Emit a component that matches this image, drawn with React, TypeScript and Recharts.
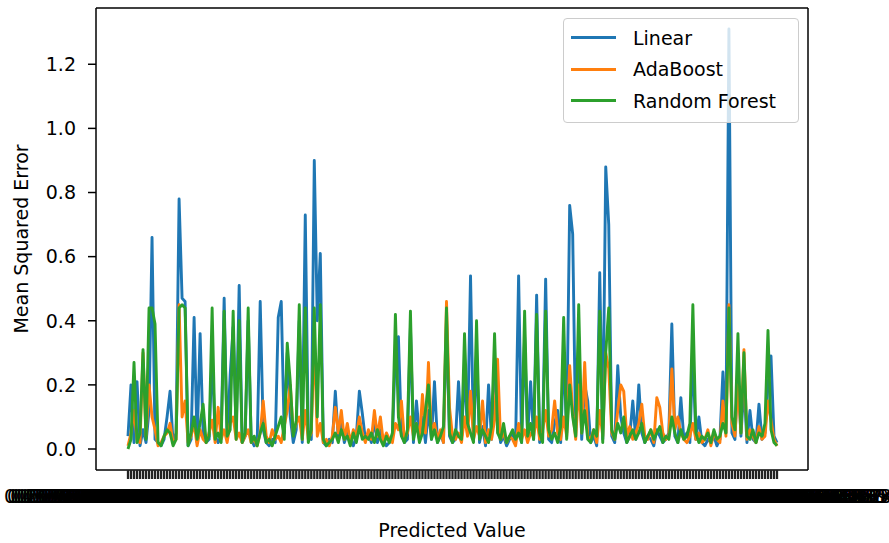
import React from "react";
import { LineChart, Line, XAxis, YAxis, CartesianGrid, Legend, Label } from "recharts";

// x categories: predicted values (tick labels overlap into a solid band in the original)
const predicted = [
  "0.4378259143872615432", "0.2916473805126394871", "0.5830194762538140926", "0.1748392056174832965", "0.3692047185039271648", "0.6120493857261048375", "0.0973518264093715284",
  "0.8254170396215843709", "0.3361852947102583614", "0.7105938264817340295", "0.4592817306458129073", "0.2038475619283746501", "0.5517390428163927458", "0.9146285037194625830",
  "0.1285730946218403765", "0.6749201583726419038", "0.3927461058391047256", "0.8012364957840216397", "0.2475918306427159384", "0.5063782914056381729", "0.7391840265139572086",
  "0.0658293147526084913", "0.4821057396241837560", "0.6293748150362941087", "0.3150846279183620954", "0.8876120453927481036", "0.1904637582016374925", "0.5728304196513829407",
  "0.4036917285409136582", "0.7650283914625307148", "0.2519640837152849367", "0.9321587064238917450", "0.3589201746930258164", "0.6837405129481603795", "0.1160359428716294053",
  "0.5294871630258146309", "0.8143906275341089652", "0.2701538469027136584", "0.6452917308164235970", "0.0391826547380916243", "0.4718360295418627039", "0.7936150824693052718",
  "0.3047281956302817465", "0.5902746183059271834", "0.1627394085164930527", "0.8590417362805143926", "0.4265038179236485710", "0.6983152740519826347", "0.2294806351740658192",
  "0.7512039486271354806", "0.0826471539082473615", "0.5146093827561039284", "0.3801572694318562047", "0.9053816427095281364", "0.2140968573126493087", "0.6630294158726037451",
  "0.4489150372860421759", "0.1392685047913826540", "0.7764029381502697163", "0.3218470569341875026", "0.5987312640857132908", "0.8402657193068241573", "0.2653094718236059481",
  "0.0517834296103582947", "0.6178420953618274035", "0.3736095128470361952", "0.9217648305912473068", "0.4940273816529038176", "0.1853607249381754602", "0.7069385142657203918",
  "0.3482605179042637815", "0.8721049365287150436", "0.2085913467301829754", "0.5639870214358016927", "0.1019473582640923185", "0.6871530492718364059", "0.4153762809162547390",
  "0.7825041936752810463", "0.2562839017495361208", "0.5408176293035184726", "0.9684310527106428395", "0.3012548769123705648", "0.6326081547930862174", "0.1571896432085916307",
  "0.4805319267541702938", "0.8039672451380527146", "0.2398054716293841065", "0.7283610945817260493", "0.0734185926304157382", "0.5515062839470283615", "0.3877249051632974801",
  "0.6591438207514839627", "0.1246709358162053894", "0.9005823174638291540", "0.4327160985240513768", "0.2819574036182607459", "0.7640193852071346285", "0.5172836049318457960",
  "0.0928471536204715893", "0.6036287419571028364", "0.3564019827365094172", "0.8478306152849163720", "0.1982653074106382915", "0.7157940263584710326", "0.4620581397023856149",
  "0.2731096548317250496", "0.9412837065129340875", "0.5869204317860523194", "0.1304758926473018265", "0.6715390842051769304", "0.3289614075832146958", "0.8136572049163825407",
  "0.4092758136509274163", "0.0615382497126048730", "0.7473019258643105827", "0.2960845173258619043", "0.5281467093712540386", "0.8847201536940872159", "0.1708935264081356724",
  "0.6409172835624098517", "0.3851260749385712406", "0.9760384125079341628", "0.2247618590342876035", "0.5734091628107352849", "0.1139607452836491270", "0.7018453962513804736",
  "0.4571806329147625083", "0.8306259174620183945", "0.2026743851936047215", "0.6187520943705318462", "0.0402865719836254197", "0.5492738016548170324", "0.3635104982716593048",
  "0.7934682150381946720", "0.2617035849267103584", "0.6845219306715438092", "0.1476830259483715026", "0.4928561073625049837", "0.8569014736205831469", "0.3154270869124763508",
  "0.5803942617053826194", "0.0869317524186402759", "0.7208650493851726347", "0.4251867039124683502", "0.2693518047365120948", "0.9128047356102498613", "0.6394025718936574201",
  "0.1862407395268143057", "0.5047318629045871239", "0.8615792430186357142", "0.3470926158732904615", "0.6912583047164205387", "0.0253798164372059418", "0.4436915207683142596",
  "0.7742108365294018573", "0.2189574036718245609", "0.5569283047312687514", "0.9306751824095136287", "0.3728410596427183560", "0.6281059734618520943", "0.1097632584205963718",
  "0.4697351028476309152", "0.8054916273105842637", "0.2874130659271548306", "0.6650384917253061824", "0.0572946381627409315", "0.5336127908514267390", "0.9471805263927310846",
  "0.3126495780364127058", "0.7589302146813075429", "0.1953706429158362047", "0.6047281593205714683", "0.4382951067342809516", "0.8738610254791623840", "0.2315849072613958471",
  "0.5629073148206351794", "0.0985134627094583216", "0.7391865024317920658", "0.3517602948153746029", "0.8293405761592184370", "0.1680952437605812943", "0.6024718359284617035",
  "0.4213869507126039482", "0.9652031847259143706", "0.2740318596427605813", "0.7106845293061487295", "0.0348279165037241856", "0.5871630294176583920", "0.3395017842659320174",
  "0.8167294053819472605", "0.1529836470235018947", "0.6483017259641830526", "0.4051762938206594173", "0.2872651403918267054", "0.9217340568023614795", "0.5408926173584203167",
  "0.0761593284015726438", "0.6915830472169348520", "0.3284067195503817462", "0.7823159460287513094", "0.4607813925316048275", "0.2146705839462170358", "0.8539246017385029614",
  "0.3912587406123596841", "0.6270491853096712534", "0.1418735062974185203", "0.5983620497321408657", "0.9046817352061934728", "0.2527049168345207391", "0.7174083592613840526",
  "0.4859130726485017362", "0.0690248153762394850", "0.6732518094271603895", "0.3605829174093156428", "0.8391062547618230974", "0.1215876493025718360", "0.5547309182630451897",
];

const linear = [
  0.04, 0.20, 0.02, 0.21, 0.01, 0.06, 0.02, 0.12, 0.66, 0.03,
  0.02, 0.01, 0.03, 0.10, 0.18, 0.02, 0.05, 0.78, 0.47, 0.46,
  0.01, 0.03, 0.41, 0.02, 0.36, 0.05, 0.02, 0.03, 0.30, 0.04,
  0.02, 0.04, 0.47, 0.03, 0.23, 0.38, 0.05, 0.51, 0.02, 0.04,
  0.40, 0.03, 0.01, 0.02, 0.46, 0.06, 0.02, 0.01, 0.03, 0.02,
  0.41, 0.46, 0.05, 0.30, 0.10, 0.02, 0.06, 0.40, 0.02, 0.73,
  0.05, 0.03, 0.90, 0.40, 0.61, 0.02, 0.01, 0.03, 0.02, 0.18,
  0.03, 0.08, 0.02, 0.05, 0.03, 0.01, 0.04, 0.18, 0.11, 0.03,
  0.05, 0.02, 0.09, 0.02, 0.06, 0.03, 0.01, 0.02, 0.04, 0.30,
  0.35, 0.05, 0.02, 0.03, 0.38, 0.02, 0.15, 0.04, 0.10, 0.02,
  0.12, 0.03, 0.21, 0.02, 0.05, 0.02, 0.40, 0.04, 0.02, 0.03,
  0.21, 0.03, 0.25, 0.05, 0.54, 0.03, 0.30, 0.02, 0.07, 0.01,
  0.20, 0.03, 0.28, 0.10, 0.02, 0.04, 0.01, 0.03, 0.05, 0.02,
  0.54, 0.02, 0.35, 0.04, 0.21, 0.03, 0.48, 0.02, 0.05, 0.53,
  0.03, 0.02, 0.08, 0.12, 0.02, 0.30, 0.05, 0.76, 0.67, 0.04,
  0.35, 0.03, 0.20, 0.15, 0.02, 0.04, 0.01, 0.55, 0.03, 0.88,
  0.70, 0.04, 0.02, 0.26, 0.10, 0.05, 0.02, 0.04, 0.15, 0.03,
  0.20, 0.05, 0.02, 0.04, 0.03, 0.01, 0.06, 0.04, 0.02, 0.03,
  0.05, 0.39, 0.04, 0.02, 0.16, 0.03, 0.05, 0.02, 0.30, 0.03,
  0.10, 0.02, 0.01, 0.03, 0.02, 0.04, 0.01, 0.03, 0.24, 0.05,
  1.31, 0.05, 0.03, 0.25, 0.04, 0.20, 0.02, 0.12, 0.03, 0.02,
  0.14, 0.03, 0.05, 0.20, 0.29, 0.04, 0.02,
];

const adaBoost = [
  0.01, 0.05, 0.12, 0.03, 0.02, 0.30, 0.04, 0.20, 0.10, 0.06,
  0.01, 0.02, 0.04, 0.05, 0.08, 0.02, 0.03, 0.45, 0.10, 0.15,
  0.02, 0.04, 0.08, 0.01, 0.06, 0.03, 0.02, 0.05, 0.09, 0.02,
  0.13, 0.03, 0.06, 0.02, 0.08, 0.10, 0.03, 0.05, 0.02, 0.04,
  0.06, 0.02, 0.03, 0.01, 0.05, 0.15, 0.04, 0.02, 0.06, 0.03,
  0.04, 0.02, 0.07, 0.12, 0.20, 0.05, 0.08, 0.10, 0.03, 0.12,
  0.03, 0.05, 0.35, 0.04, 0.08, 0.02, 0.03, 0.01, 0.04, 0.13,
  0.05, 0.12, 0.03, 0.08, 0.02, 0.06, 0.04, 0.10, 0.05, 0.02,
  0.06, 0.03, 0.12, 0.04, 0.10, 0.02, 0.05, 0.03, 0.02, 0.08,
  0.06, 0.15, 0.03, 0.05, 0.10, 0.04, 0.08, 0.03, 0.17, 0.05,
  0.27, 0.04, 0.08, 0.03, 0.06, 0.02, 0.46, 0.13, 0.04, 0.03,
  0.05, 0.02, 0.10, 0.04, 0.18, 0.03, 0.07, 0.04, 0.15, 0.02,
  0.06, 0.03, 0.09, 0.28, 0.03, 0.05, 0.02, 0.04, 0.03, 0.01,
  0.08, 0.03, 0.06, 0.02, 0.05, 0.04, 0.10, 0.03, 0.06, 0.12,
  0.04, 0.06, 0.15, 0.05, 0.03, 0.10, 0.04, 0.26, 0.12, 0.03,
  0.20, 0.05, 0.27, 0.04, 0.03, 0.06, 0.02, 0.12, 0.04, 0.30,
  0.25, 0.05, 0.03, 0.12, 0.20, 0.18, 0.04, 0.07, 0.03, 0.05,
  0.08, 0.14, 0.04, 0.03, 0.06, 0.02, 0.16, 0.13, 0.05, 0.03,
  0.04, 0.25, 0.06, 0.10, 0.05, 0.03, 0.02, 0.04, 0.08, 0.03,
  0.05, 0.02, 0.03, 0.06, 0.01, 0.05, 0.03, 0.02, 0.15, 0.04,
  0.45, 0.08, 0.04, 0.20, 0.05, 0.31, 0.03, 0.06, 0.04, 0.02,
  0.07, 0.03, 0.04, 0.15, 0.09, 0.03, 0.01,
];

const randomForest = [
  0.00, 0.03, 0.27, 0.02, 0.05, 0.31, 0.03, 0.44, 0.44, 0.39,
  0.02, 0.01, 0.04, 0.06, 0.05, 0.01, 0.03, 0.44, 0.45, 0.44,
  0.01, 0.05, 0.10, 0.03, 0.08, 0.14, 0.02, 0.04, 0.44, 0.03,
  0.05, 0.02, 0.43, 0.04, 0.06, 0.43, 0.03, 0.40, 0.02, 0.05,
  0.44, 0.02, 0.04, 0.01, 0.05, 0.08, 0.02, 0.03, 0.01, 0.04,
  0.07, 0.10, 0.03, 0.33, 0.21, 0.04, 0.09, 0.45, 0.03, 0.44,
  0.02, 0.06, 0.44, 0.10, 0.45, 0.03, 0.01, 0.02, 0.03, 0.05,
  0.02, 0.06, 0.03, 0.04, 0.01, 0.05, 0.02, 0.07, 0.03, 0.04,
  0.03, 0.05, 0.02, 0.06, 0.03, 0.01, 0.04, 0.02, 0.05, 0.42,
  0.10, 0.04, 0.02, 0.06, 0.43, 0.03, 0.08, 0.02, 0.05, 0.12,
  0.20, 0.03, 0.06, 0.02, 0.04, 0.07, 0.44, 0.05, 0.02, 0.06,
  0.04, 0.03, 0.36, 0.08, 0.05, 0.02, 0.40, 0.03, 0.06, 0.04,
  0.02, 0.07, 0.36, 0.05, 0.03, 0.08, 0.02, 0.04, 0.06, 0.03,
  0.05, 0.02, 0.43, 0.04, 0.08, 0.03, 0.42, 0.05, 0.02, 0.43,
  0.06, 0.03, 0.05, 0.02, 0.07, 0.41, 0.03, 0.20, 0.10, 0.04,
  0.45, 0.05, 0.12, 0.03, 0.02, 0.06, 0.04, 0.43, 0.02, 0.30,
  0.44, 0.06, 0.03, 0.08, 0.05, 0.10, 0.02, 0.04, 0.06, 0.03,
  0.05, 0.08, 0.02, 0.04, 0.06, 0.03, 0.05, 0.07, 0.02, 0.04,
  0.03, 0.10, 0.05, 0.02, 0.06, 0.03, 0.04, 0.08, 0.45, 0.05,
  0.02, 0.04, 0.03, 0.05, 0.02, 0.06, 0.03, 0.04, 0.08, 0.05,
  0.44, 0.10, 0.06, 0.36, 0.05, 0.30, 0.04, 0.03, 0.06, 0.02,
  0.05, 0.04, 0.08, 0.37, 0.06, 0.02, 0.01,
];

const yTicks = [0, 0.2, 0.4, 0.6, 0.8, 1.0, 1.2];

const series = [
  { key: "linear", name: "Linear", color: "#1f77b4" },
  { key: "adaBoost", name: "AdaBoost", color: "#ff7f0e" },
  { key: "randomForest", name: "Random Forest", color: "#2ca02c" },
];

const data = predicted.map((p, i) => ({
  predicted: p,
  linear: linear[i],
  adaBoost: adaBoost[i],
  randomForest: randomForest[i],
}));

const FONT = "'DejaVu Sans', sans-serif";

function LegendBox() {
  return (
    <div
      style={{
        border: "1px solid #cccccc",
        borderRadius: 4,
        background: "rgba(255,255,255,0.8)",
        padding: "3px 10px 5px 7px",
        fontFamily: FONT,
        fontSize: 19,
        color: "#000",
        boxSizing: "border-box",
      }}
    >
      {series.map((s) => (
        <div key={s.key} style={{ display: "flex", alignItems: "center", height: 31.5 }}>
          <span style={{ display: "inline-block", width: 45, height: 3, background: s.color, marginRight: 17 }} />
          <span style={{ whiteSpace: "nowrap" }}>{s.name}</span>
        </div>
      ))}
    </div>
  );
}

export default function App() {
  return (
    <div style={{ position: "absolute", left: 0, top: 0, width: 889, height: 543, background: "#fff", fontFamily: FONT }}>
      <LineChart width={889} height={543} data={data} margin={{ top: 8, right: 81, bottom: 0, left: 0 }}>
        {/* axes frame, as matplotlib spines */}
        <CartesianGrid
          stroke="#000"
          strokeWidth={1.5}
          horizontalCoordinatesGenerator={({ offset }: any) => [offset.top, offset.top + offset.height]}
          verticalCoordinatesGenerator={({ offset }: any) => [offset.left, offset.left + offset.width]}
        />
        <XAxis
          dataKey="predicted"
          interval={0}
          height={73}
          padding={{ left: 32, right: 31 }}
          axisLine={false}
          tickLine={{ stroke: "#222", strokeWidth: 2.3 }}
          tickSize={9}
          tickMargin={11}
          tick={{ fontSize: 19, fill: "#000", fontFamily: FONT }}
        >
          <Label
            content={({ viewBox }: any) => (
              <text
                x={viewBox.x + viewBox.width / 2}
                y={viewBox.y + 67}
                textAnchor="middle"
                fontSize={19}
                fontFamily={FONT}
                fill="#000"
              >
                Predicted Value
              </text>
            )}
          />
        </XAxis>
        <YAxis
          type="number"
          width={96}
          domain={[-0.0655, 1.3755]}
          ticks={yTicks}
          allowDataOverflow
          axisLine={false}
          tickLine={{ stroke: "#000", strokeWidth: 1.5 }}
          tickSize={8}
          tickMargin={12}
          tickFormatter={(v: number) => v.toFixed(1)}
          tick={{ fontSize: 19, fill: "#000", fontFamily: FONT }}
        >
          <Label
            content={({ viewBox }: any) => {
              const cx = viewBox.x + 28;
              const cy = viewBox.y + viewBox.height / 2;
              return (
                <text
                  x={cx}
                  y={cy}
                  transform={`rotate(-90 ${cx} ${cy})`}
                  textAnchor="middle"
                  fontSize={19}
                  fontFamily={FONT}
                  fill="#000"
                >
                  Mean Squared Error
                </text>
              );
            }}
          />
        </YAxis>
        {series.map((s) => (
          <Line
            key={s.key}
            type="linear"
            dataKey={s.key}
            name={s.name}
            stroke={s.color}
            strokeWidth={2.9}
            strokeLinejoin="round"
            dot={false}
            activeDot={false}
            isAnimationActive={false}
          />
        ))}
        <Legend
          layout="vertical"
          align="center"
          verticalAlign="middle"
          content={() => <LegendBox />}
          wrapperStyle={{ left: 563, top: 18, right: "auto", bottom: "auto", width: 236 }}
        />
      </LineChart>
    </div>
  );
}
